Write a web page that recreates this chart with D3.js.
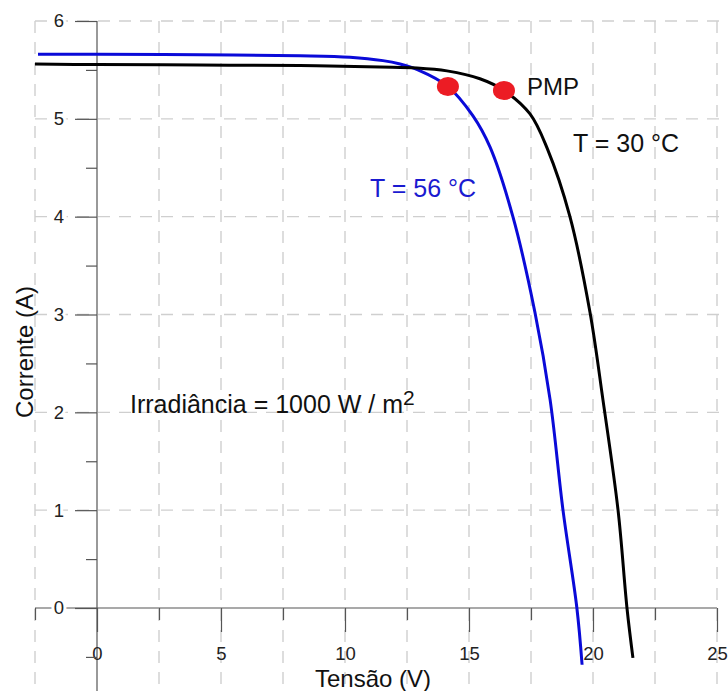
<!DOCTYPE html>
<html>
<head>
<meta charset="utf-8">
<script src="https://cdn.jsdelivr.net/npm/d3@7"></script>
<style>
  body { margin: 0; background: #fff; }
  text { font-family: "Liberation Sans", Arial, sans-serif; }
</style>
</head>
<body>
<div id="chart"></div>
<script>
// I-V curves (voltage in V, current in A)
const voltage30 = [-2.5, 0, 4.15, 8.19, 11.41, 12.9, 14.11, 15.44, 16.41, 17.46, 18.15, 19.07, 19.88, 20.4, 21.01, 21.37, 21.61];
const current30 = [5.56, 5.555, 5.55, 5.545, 5.53, 5.52, 5.49, 5.41, 5.29, 5.05, 4.7, 4.0, 3.02, 2.13, 1.0, 0, -0.51];
const voltage56 = [-2.38, 0, 4.15, 8.19, 10.2, 11.53, 12.22, 12.94, 14.15, 15.16, 15.85, 16.77, 17.66, 18.27, 18.79, 19.35, 19.56];
const current56 = [5.66, 5.66, 5.655, 5.645, 5.63, 5.595, 5.56, 5.5, 5.33, 5.03, 4.71, 4.0, 3.02, 2.13, 1.0, 0, -0.58];

// maximum power points
const pmpVoltage = [16.41, 14.15];
const pmpCurrent = [5.29, 5.33];

// ticks
const xMajorTicks = [0, 5, 10, 15, 20, 25];
const xMinorTicks = [-2.5, 2.5, 7.5, 12.5, 17.5, 22.5];
const xGridTicks = [-2.5, 2.5, 5, 7.5, 10, 12.5, 15, 17.5, 20, 22.5, 25];
const yMajorTicks = [0, 1, 2, 3, 4, 5, 6];
const yMinorTicks = [-0.5, 0.5, 1.5, 2.5, 3.5, 4.5, 5.5];

const W = 728, H = 691;

const svg = d3.select("#chart")
  .append("svg")
  .attr("width", W)
  .attr("height", H);

svg.append("rect").attr("width", W).attr("height", H).attr("fill", "#fff");

const x = d3.scaleLinear().domain([0, 25]).range([97, 717]);
const y = d3.scaleLinear().domain([0, 6]).range([608, 21]);

// dashed grid
const grid = svg.append("g")
  .attr("stroke", "#cfcfcf")
  .attr("stroke-width", 1.4)
  .attr("stroke-dasharray", "12,9");

grid.selectAll(".vgrid")
  .data(xGridTicks)
  .enter()
  .append("line")
  .attr("x1", (d) => x(d))
  .attr("x2", (d) => x(d))
  .attr("y1", y(6))
  .attr("y2", H);

grid.selectAll(".hgrid")
  .data(yMajorTicks.filter((d) => d !== 0))
  .enter()
  .append("line")
  .attr("x1", x(-2.5))
  .attr("x2", W)
  .attr("y1", (d) => y(d))
  .attr("y2", (d) => y(d));

// axis lines
const axisColor = "#555";
svg.append("line")
  .attr("x1", x(-2.5)).attr("x2", x(25))
  .attr("y1", y(0)).attr("y2", y(0))
  .attr("stroke", axisColor).attr("stroke-width", 1.2);
svg.append("line")
  .attr("x1", x(0)).attr("x2", x(0))
  .attr("y1", y(6)).attr("y2", H)
  .attr("stroke", axisColor).attr("stroke-width", 1.2);

// x axis ticks
const xAxisMajor = svg.append("g")
  .attr("transform", "translate(0," + y(0) + ")")
  .call(d3.axisBottom(x).tickValues(xMajorTicks).tickSize(24).tickPadding(15).tickFormat(d3.format("d")));
const xAxisMinor = svg.append("g")
  .attr("transform", "translate(0," + y(0) + ")")
  .call(d3.axisBottom(x).tickValues(xMinorTicks).tickSize(12).tickFormat(""));

// y axis ticks
const yAxisMajor = svg.append("g")
  .attr("transform", "translate(" + x(0) + ",0)")
  .call(d3.axisLeft(y).tickValues(yMajorTicks).tickSize(22).tickPadding(11).tickFormat(d3.format("d")));
const yAxisMinor = svg.append("g")
  .attr("transform", "translate(" + x(0) + ",0)")
  .call(d3.axisLeft(y).tickValues(yMinorTicks).tickSize(11).tickFormat(""));

for (const ax of [xAxisMajor, xAxisMinor, yAxisMajor, yAxisMinor]) {
  ax.select(".domain").remove();
  ax.selectAll("line").attr("stroke", axisColor).attr("stroke-width", 1.2);
  ax.selectAll("text")
    .attr("font-family", "Liberation Sans, Arial, sans-serif")
    .attr("font-size", 18.5)
    .attr("fill", "#222");
}

// white halo so the y "0" sits over the x axis line
yAxisMajor.selectAll("text")
  .attr("stroke", "#fff")
  .attr("stroke-width", 6)
  .attr("paint-order", "stroke");

// curves
const line = d3.line()
  .x((d) => x(d[0]))
  .y((d) => y(d[1]))
  .curve(d3.curveCatmullRom.alpha(0.5));

svg.append("path")
  .datum(d3.zip(voltage56, current56))
  .attr("fill", "none")
  .attr("stroke", "#0a0ad8")
  .attr("stroke-width", 3)
  .attr("d", line);

svg.append("path")
  .datum(d3.zip(voltage30, current30))
  .attr("fill", "none")
  .attr("stroke", "#000")
  .attr("stroke-width", 3)
  .attr("d", line);

// PMP dots
svg.selectAll(".pmp")
  .data(d3.zip(pmpVoltage, pmpCurrent))
  .enter()
  .append("ellipse")
  .attr("cx", (d) => x(d[0]))
  .attr("cy", (d) => y(d[1]))
  .attr("rx", 11)
  .attr("ry", 9.5)
  .attr("fill", "#ec1c24");

// annotations
svg.append("text")
  .attr("x", 527).attr("y", 95)
  .attr("font-family", "Open Sans, Liberation Sans, sans-serif")
  .attr("font-size", 24)
  .attr("fill", "#111")
  .text("PMP");

svg.append("text")
  .attr("x", 573).attr("y", 152)
  .attr("font-size", 25)
  .attr("fill", "#111")
  .text("T = 30 °C");

svg.append("text")
  .attr("x", 370).attr("y", 197)
  .attr("font-size", 25)
  .attr("fill", "#1a1ad0")
  .text("T = 56 °C");

const irr = svg.append("text")
  .attr("x", 130).attr("y", 413)
  .attr("font-size", 25)
  .attr("fill", "#111");
irr.append("tspan").text("Irradiância = 1000 W / m");
irr.append("tspan").attr("font-size", 21).attr("dy", -8).text("2");

// axis titles
svg.append("text")
  .attr("x", 373).attr("y", 687)
  .attr("text-anchor", "middle")
  .attr("font-size", 24)
  .attr("fill", "#111")
  .text("Tensão (V)");

svg.append("text")
  .attr("transform", "translate(33,352) rotate(-90)")
  .attr("text-anchor", "middle")
  .attr("font-size", 24)
  .attr("fill", "#111")
  .text("Corrente (A)");
</script>
</body>
</html>
